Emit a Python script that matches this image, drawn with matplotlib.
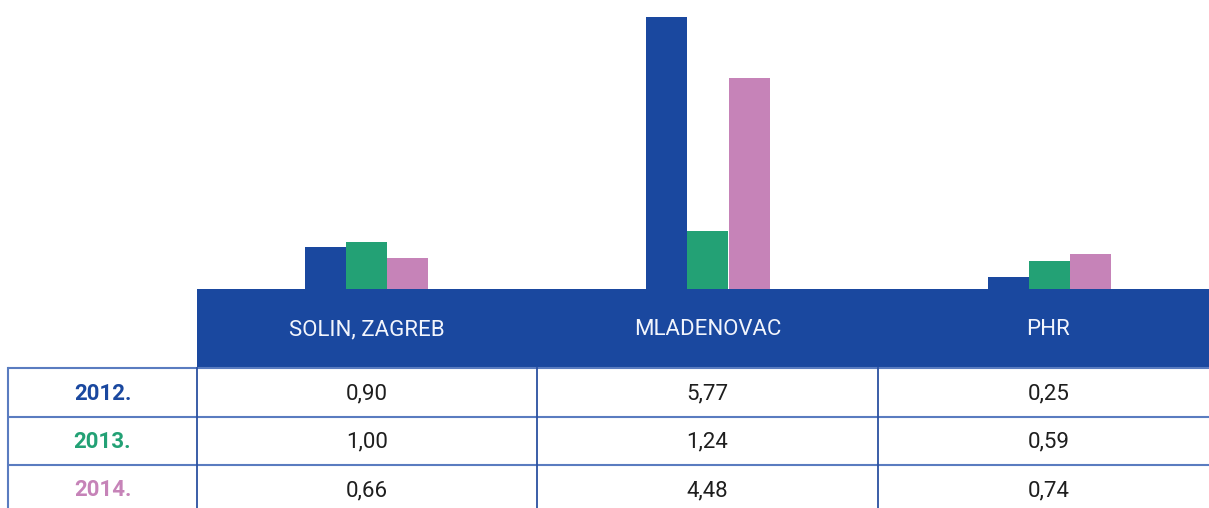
import matplotlib
matplotlib.use("Agg")
import matplotlib.pyplot as plt
from matplotlib.patches import Rectangle

# Data
categories = ["SOLIN, ZAGREB", "MLADENOVAC", "PHR"]
years = ["2012.", "2013.", "2014."]
values_2012 = [0.90, 5.77, 0.25]
values_2013 = [1.00, 1.24, 0.59]
values_2014 = [0.66, 4.48, 0.74]
series = [values_2012, values_2013, values_2014]
colors = ["#1a489f", "#23a175", "#c683b8"]

W, H = 1209, 508
fig = plt.figure(figsize=(W / 100, H / 100), dpi=100)


def fy(py):
    return 1 - py / H


# Bar axes: baseline sits on the header band
base_px = 289
group0_px = 366.5
group_step_px = 341.5
unit_px = 47.14
bar_w = 41 / group_step_px

ax = fig.add_axes([0, fy(base_px), 1, base_px / H])
ax.set_xlim(-group0_px / group_step_px, (W - group0_px) / group_step_px)
ax.set_ylim(0, base_px / unit_px)
ax.axis("off")
for i, (vals, c) in enumerate(zip(series, colors)):
    xs = [k + (i - 1) * bar_w for k in range(len(categories))]
    ax.bar(xs, vals, width=bar_w, color=c, linewidth=0)

# Table overlay in pixel coordinates
tx = fig.add_axes([0, 0, 1, 1])
tx.set_xlim(0, W)
tx.set_ylim(H, 0)
tx.axis("off")
tx.patch.set_alpha(0)

band_top, band_bot = 289, 368
col_edges = [197, 537, 878, 1219]
left_edge = 8
row_edges = [368, 417, 465, 514]

tx.add_patch(Rectangle((col_edges[0], band_top), W - col_edges[0], band_bot - band_top,
                       color="#1a489f", linewidth=0))

font = "Roboto"
for j, name in enumerate(categories):
    cx = (col_edges[j] + col_edges[j + 1]) / 2
    tx.text(cx, (band_top + band_bot) / 2 + 1, name, ha="center", va="center",
            color="#f2f5fc", fontsize=16, family=font, fontweight="normal")

hcol = "#5a7cc0"
vcol = "#2b50a0"
for y in row_edges[:-1]:
    tx.plot([left_edge, W], [y, y], color=hcol, lw=1.5, solid_capstyle="butt")
tx.plot([left_edge, left_edge], [row_edges[0], H], color=hcol, lw=1.5)
for x in col_edges[:3]:
    tx.plot([x, x], [row_edges[0], H], color=vcol, lw=1.3)

for r, (yr, vals, c) in enumerate(zip(years, series, colors)):
    cy = (row_edges[r] + row_edges[r + 1]) / 2 + 1
    tx.text((left_edge + col_edges[0]) / 2, cy, yr, ha="center", va="center",
            color=c, fontsize=16, family=font, fontweight="bold")
    for j, v in enumerate(vals):
        cx = (col_edges[j] + col_edges[j + 1]) / 2
        tx.text(cx, cy, f"{v:.2f}".replace(".", ","), ha="center", va="center",
                color="#1e1e1e", fontsize=16, family=font, fontweight="normal")

fig.savefig("out.png", dpi=100)
